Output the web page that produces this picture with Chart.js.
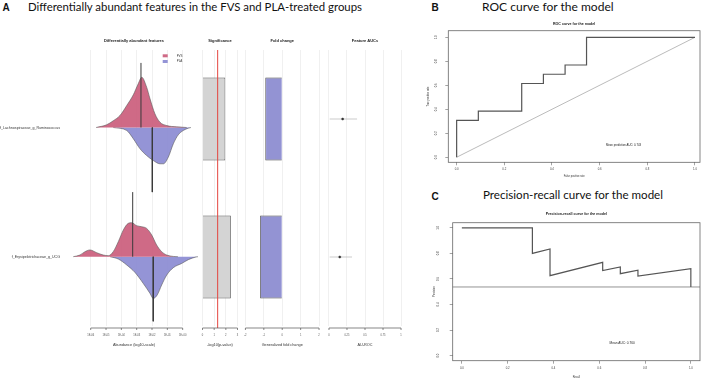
<!DOCTYPE html>
<html><head><meta charset="utf-8">
<script src="https://cdn.jsdelivr.net/npm/chart.js@4.4.1/dist/chart.umd.min.js"></script>
<style>
html,body{margin:0;padding:0;background:#fff;width:708px;height:380px;overflow:hidden;position:relative}
canvas{position:absolute}
.hdr{position:absolute;font-family:Lato,'Liberation Sans',sans-serif;color:#111;white-space:nowrap;line-height:1;transform-origin:0 0}
.lt{position:absolute;font-family:'Liberation Sans',Arial,sans-serif;font-weight:bold;font-size:10px;color:#111;line-height:1}
</style></head><body>
<div class="lt" style="left:2.5px;top:3px">A</div>
<div class="hdr" data-w="334" style="left:28px;top:1.6px;font-size:10.5px">Differentially abundant features in the FVS and PLA-treated groups</div>
<div class="lt" style="left:431.5px;top:2.5px">B</div>
<div class="hdr" data-w="131.6" style="left:481.7px;top:1px;font-size:11px">ROC curve for the model</div>
<div class="lt" style="left:431.5px;top:191.5px">C</div>
<div class="hdr" data-w="180" style="left:483.3px;top:189.3px;font-size:11px">Precision-recall curve for the model</div>

<canvas id="dens" width="205" height="360" style="left:0;top:0"></canvas>
<canvas id="sig" width="60" height="360" style="left:190px;top:0"></canvas>
<canvas id="fold" width="92" height="360" style="left:236px;top:0"></canvas>
<canvas id="auc" width="90" height="360" style="left:320px;top:0"></canvas>
<canvas id="roc" width="298" height="190" style="left:410px;top:0"></canvas>
<canvas id="pr" width="298" height="190" style="left:410px;top:190px"></canvas>

<script>
// ---------------- DATA ----------------
const FEATURES = ['f_Lachnospiraceae_g_Ruminococcus', 'f_Erysipelotrichaceae_g_UCG'];
const GROUPS = ['FVS', 'PLA'];
const ABUND_TICKS = [-6, -5, -4, -3, -2, -1, 0];
const ABUND_LABELS = ['1E-06', '1E-05', '1E-04', '1E-03', '1E-02', '1E-01', '1E+00'];

// density curves: x = log10 abundance, d = density height (row units)
const R1_FVS_X = [-5.65, -4.96, -4.53, -4.09, -3.65, -3.22, -2.90, -2.67, -2.35, -2.13, -1.81, -1.48, -1.04, -0.39, 0.26];
const R1_FVS_D = [0, 0.021, 0.052, 0.093, 0.170, 0.253, 0.338, 0.389, 0.312, 0.222, 0.106, 0.041, 0.015, 0.005, 0];
const R1_PLA_X = [-4.53, -3.65, -3.22, -2.78, -2.35, -1.92, -1.48, -1.26, -0.94, -0.61, -0.29, 0.04, 0.37, 0.54];
const R1_PLA_D = [0, 0.023, 0.087, 0.165, 0.217, 0.255, 0.281, 0.281, 0.230, 0.126, 0.057, 0.023, 0.005, 0];
const R2_FVS_X = [-7.14, -6.70, -6.37, -6.05, -5.61, -5.18, -4.85, -4.53, -4.20, -3.87, -3.55, -3.33, -3.00, -2.67, -2.35, -2.02, -1.70, -1.37, -1.04, -0.61, -0.31];
const R2_FVS_D = [0, 0.013, 0.039, 0.052, 0.031, 0.013, 0.008, 0.039, 0.116, 0.207, 0.258, 0.263, 0.240, 0.232, 0.219, 0.168, 0.091, 0.039, 0.013, 0.002, 0];
const R2_PLA_X = [-4.74, -4.20, -3.65, -3.11, -2.57, -2.13, -1.92, -1.66, -1.37, -1.04, -0.61, -0.06, 0.37, 0.87, 1.0];
const R2_PLA_D = [0, 0.018, 0.064, 0.122, 0.207, 0.284, 0.323, 0.296, 0.219, 0.142, 0.085, 0.052, 0.023, 0.002, 0];
const MEDIAN_FVS = [-2.72, -3.26];
const MEDIAN_PLA = [-1.98, -1.92];

const SIG = [1.95, 2.43];          // -log10(p-value)
const SIG_THRESHOLD = 1.3;
const SIG_TICKS = [0, 1, 2, 3];
const FOLD = [-0.92, -1.2];        // generalized fold change
const FOLD_TICKS = [-2, -1, 0, 1, 2];
const AUC = [0.19, 0.15];
const AUC_LO = [0.01, 0.01];
const AUC_HI = [0.39, 0.32];
const AUC_TICKS = [0, 0.25, 0.5, 0.75, 1];

const ROC_FPR = [0, 0, 0.091, 0.091, 0.273, 0.273, 0.364, 0.364, 0.455, 0.455, 0.545, 0.545, 1.0];
const ROC_TPR = [0, 0.308, 0.308, 0.385, 0.385, 0.615, 0.615, 0.692, 0.692, 0.769, 0.769, 1.0, 1.0];
const ROC_AUC_TEXT = 'Mean prediction AUC: 0.743';
const PR_RECALL = [0, 0.308, 0.308, 0.385, 0.385, 0.615, 0.615, 0.692, 0.692, 0.769, 0.769, 1.0, 1.0];
const PR_PRECISION = [1.0, 1.0, 0.80, 0.835, 0.626, 0.730, 0.665, 0.694, 0.641, 0.668, 0.623, 0.681, 0.537];
const PR_BASELINE = 0.537;
const PR_AUC_TEXT = 'Mean AUC: 0.760';
const UNIT_TICKS = [0, 0.2, 0.4, 0.6, 0.8, 1.0];

// ---------------- STYLE ----------------
const FONT = "'Liberation Sans', Arial, sans-serif";
Chart.defaults.font.family = FONT;
Chart.defaults.color = '#444';
const FVS_COLOR = 'rgba(204,98,128,0.95)';
const PLA_COLOR = 'rgba(142,142,212,0.95)';
const MED_LEN = 0.5;

// fit headers
document.querySelectorAll('.hdr').forEach(el => {
  const w = el.getBoundingClientRect().width;
  el.style.transform = 'scaleX(' + (+el.dataset.w / w) + ')';
});

const base = {animation: false, responsive: false, devicePixelRatio: 1, events: []};
function ttl(text, size, pt, pb) {
  return {display: true, text, fullSize: false, color: '#222',
    font: {size, weight: 'bold', family: FONT, lineHeight: 1.2}, padding: {top: pt, bottom: pb}};
}
function axA(min, max, ticks, labels, title) {
  return {
    type: 'linear', min, max,
    afterBuildTicks: s => { s.ticks = ticks.map(v => ({value: v})); },
    afterFit: s => { s.height = 34; },
    grid: {color: '#ececec', lineWidth: 0.8, drawTicks: false},
    border: {display: false},
    ticks: {font: {size: 2.6}, color: '#555', padding: 8, autoSkip: false, maxRotation: 0,
      callback: (v, i) => labels[i]},
    title: {display: true, text: title, font: {size: 3.8}, color: '#333', padding: {top: 0, bottom: 12.6}}
  };
}
const axisLine = {id: 'axisLine', afterDraw(chart) {
  const x = chart.scales.x, ctx = chart.ctx, y = chart.chartArea.bottom + 2;
  const t = x.ticks;
  ctx.save(); ctx.strokeStyle = '#555'; ctx.lineWidth = 0.7; ctx.beginPath();
  ctx.moveTo(x.getPixelForValue(t[0].value), y); ctx.lineTo(x.getPixelForValue(t[t.length - 1].value), y);
  t.forEach(tk => { const px = x.getPixelForValue(tk.value); ctx.moveTo(px, y); ctx.lineTo(px, y + 2); });
  ctx.stroke(); ctx.restore();
}};

// ---------------- PANEL A: densities ----------------
const pts = (xs, ds, row, sign) => xs.map((x, i) => ({x, y: row + sign * ds[i]}));
function dens(xs, ds, row, sign, color) {
  return {data: pts(xs, ds, row, sign), showLine: true, fill: {value: row}, backgroundColor: color,
    borderColor: '#5a5a5a', borderWidth: 0.6, pointRadius: 0, cubicInterpolationMode: 'monotone', order: 2};
}
function med(x, row, sign) {
  return {data: [{x, y: row}, {x, y: row + sign * MED_LEN}], showLine: true, borderColor: '#3a3a3a',
    borderWidth: 1, pointRadius: 0, order: 0};
}
const densLegend = {id: 'densLegend', afterDraw(chart) {
  const ctx = chart.ctx, a = chart.chartArea;
  [[FVS_COLOR, GROUPS[0]], [PLA_COLOR, GROUPS[1]]].forEach(([c, t], i) => {
    const y = 54.3 + i * 5.7;
    ctx.fillStyle = c; ctx.fillRect(a.right - 35.3, y, 5, 3);
    ctx.fillStyle = '#333'; ctx.font = '3px ' + FONT; ctx.textBaseline = 'middle'; ctx.textAlign = 'left';
    ctx.fillText(t, a.right - 21.3, y + 1.5);
  });
}};
new Chart(document.getElementById('dens'), {
  type: 'scatter',
  data: {datasets: [
    dens(R1_FVS_X, R1_FVS_D, 1, -1, FVS_COLOR), dens(R1_PLA_X, R1_PLA_D, 1, 1, PLA_COLOR),
    dens(R2_FVS_X, R2_FVS_D, 2, -1, FVS_COLOR), dens(R2_PLA_X, R2_PLA_D, 2, 1, PLA_COLOR),
    med(MEDIAN_FVS[0], 1, -1), med(MEDIAN_PLA[0], 1, 1), med(MEDIAN_FVS[1], 2, -1), med(MEDIAN_PLA[1], 2, 1)
  ]},
  options: {...base, layout: {padding: {right: 7}},
    plugins: {legend: {display: false}, tooltip: {enabled: false},
      title: ttl('Differentially abundant features', 4, 38, 7.2)},
    scales: {
      x: axA(-7.35, 1.0, ABUND_TICKS, ABUND_LABELS, 'Abundance (log10-scale)'),
      y: {type: 'linear', reverse: true, min: 0.4001, max: 2.5364,
        afterBuildTicks: s => { s.ticks = [{value: 1}, {value: 2}]; },
        afterFit: s => { s.width = 70; },
        grid: {display: false}, border: {display: false},
        ticks: {font: {size: 3.6}, color: '#333', padding: 2, callback: v => FEATURES[v - 1]}}
    }},
  plugins: [axisLine, densLegend]
});

// ---------------- PANEL A: significance ----------------
const sigLine = {id: 'sigLine', afterDatasetsDraw(chart) {
  const x = chart.scales.x, a = chart.chartArea, ctx = chart.ctx, px = x.getPixelForValue(SIG_THRESHOLD);
  ctx.save(); ctx.strokeStyle = '#e4453f'; ctx.lineWidth = 1; ctx.beginPath();
  ctx.moveTo(px, a.top); ctx.lineTo(px, a.bottom + 2); ctx.stroke(); ctx.restore();
}};
function barOpts(title, xScale, padL, padR) {
  return {...base, indexAxis: 'y', layout: {padding: {left: padL, right: padR}},
    plugins: {legend: {display: false}, tooltip: {enabled: false}, title: ttl(title, 4, 38, 7.2)},
    scales: {x: xScale, y: {type: 'category', offset: true, display: false}}};
}
new Chart(document.getElementById('sig'), {
  type: 'bar',
  data: {labels: FEATURES, datasets: [{data: SIG, backgroundColor: '#d4d4d4', borderColor: '#555',
    borderWidth: 0.8, barPercentage: 0.6, categoryPercentage: 1}]},
  options: barOpts('Significance', axA(-0.3, 3.3, SIG_TICKS, SIG_TICKS.map(String), '-log10(p-value)'), 9, 9),
  plugins: [axisLine, sigLine]
});

// ---------------- PANEL A: fold change ----------------
new Chart(document.getElementById('fold'), {
  type: 'bar',
  data: {labels: FEATURES, datasets: [{data: FOLD, backgroundColor: '#9393d3', borderColor: '#444',
    borderWidth: 0.8, barPercentage: 0.6, categoryPercentage: 1}]},
  options: barOpts('Fold change', axA(-2.3, 2.3, FOLD_TICKS, FOLD_TICKS.map(String), 'Generalized fold change'), 2.3, 2.3),
  plugins: [axisLine]
});

// ---------------- PANEL A: AUCs ----------------
const aucSets = FEATURES.map((f, i) => ({data: [{x: AUC_LO[i], y: f}, {x: AUC_HI[i], y: f}], showLine: true,
  borderColor: '#a8a8a8', borderWidth: 0.6, pointRadius: 0, order: 1}));
aucSets.push({data: FEATURES.map((f, i) => ({x: AUC[i], y: f})), pointRadius: 1.1,
  backgroundColor: '#2a2a2a', borderColor: '#2a2a2a', borderWidth: 0.4, order: 0});
new Chart(document.getElementById('auc'), {
  type: 'scatter',
  data: {datasets: aucSets},
  options: {...base, layout: {padding: {left: 3.75, right: 3.75}},
    plugins: {legend: {display: false}, tooltip: {enabled: false}, title: ttl('Feature AUCs', 4, 38, 7.2)},
    scales: {x: axA(-0.05, 1.05, AUC_TICKS, AUC_TICKS.map(String), 'AU-ROC'),
      y: {type: 'category', labels: FEATURES, offset: true, display: false}}},
  plugins: [axisLine]
});

// ---------------- PANELS B & C ----------------
const frame = {id: 'frame', afterDraw(chart) {
  const a = chart.chartArea, ctx = chart.ctx;
  ctx.save(); ctx.strokeStyle = '#666'; ctx.lineWidth = 0.8;
  ctx.strokeRect(a.left, a.top, a.right - a.left, a.bottom - a.top); ctx.restore();
}};
const note = {id: 'note', afterDraw(chart, args, o) {
  const ctx = chart.ctx;
  ctx.save(); ctx.fillStyle = '#222'; ctx.font = o.size + 'px ' + FONT; ctx.textAlign = 'center'; ctx.textBaseline = 'middle';
  ctx.fillText(o.text, chart.scales.x.getPixelForValue(o.x), chart.scales.y.getPixelForValue(o.y)); ctx.restore();
}};
const hline = {id: 'hline', beforeDatasetsDraw(chart, args, o) {
  if (o.value === undefined) return;
  const a = chart.chartArea, ctx = chart.ctx, py = chart.scales.y.getPixelForValue(o.value);
  ctx.save(); ctx.strokeStyle = '#777'; ctx.lineWidth = 0.8; ctx.beginPath();
  ctx.moveTo(a.left, py); ctx.lineTo(a.right, py); ctx.stroke(); ctx.restore();
}};
function rScales(xr, yr, xTitle, yTitle, xh, xtPad, xTitlePb, yw, ytPad, yTitlePt) {
  return {
    x: {type: 'linear', min: xr[0], max: xr[1],
      afterBuildTicks: s => { s.ticks = UNIT_TICKS.map(v => ({value: v})); },
      afterFit: s => { s.height = xh; },
      grid: {drawOnChartArea: false, drawTicks: true, tickLength: 3, color: '#666', lineWidth: 0.6},
      border: {display: false},
      ticks: {font: {size: 2.8}, color: '#444', padding: xtPad, maxRotation: 0, autoSkip: false, callback: v => v.toFixed(1)},
      title: {display: true, text: xTitle, font: {size: 2.6}, color: '#333', padding: {top: 0, bottom: xTitlePb}}},
    y: {type: 'linear', min: yr[0], max: yr[1],
      afterBuildTicks: s => { s.ticks = UNIT_TICKS.map(v => ({value: v})); },
      afterFit: s => { s.width = yw; },
      grid: {drawOnChartArea: false, drawTicks: true, tickLength: 3, color: '#666', lineWidth: 0.6},
      border: {display: false},
      ticks: {font: {size: 2.8}, color: '#444', padding: ytPad, minRotation: 90, maxRotation: 90, crossAlign: 'center',
        autoSkip: false, callback: v => v.toFixed(1)},
      title: {display: true, text: yTitle, font: {size: 2.6}, color: '#333', padding: {top: yTitlePt, bottom: 0}}}
  };
}
new Chart(document.getElementById('roc'), {
  type: 'scatter',
  data: {datasets: [
    {data: ROC_FPR.map((x, i) => ({x, y: ROC_TPR[i]})), showLine: true, borderColor: '#555', borderWidth: 1.2, pointRadius: 0, order: 0},
    {data: [{x: 0, y: 0}, {x: 1, y: 1}], showLine: true, borderColor: '#aaa', borderWidth: 0.8, pointRadius: 0, order: 1}
  ]},
  options: {...base, layout: {padding: {right: 8}},
    plugins: {legend: {display: false}, tooltip: {enabled: false},
      title: ttl('ROC curve for the model', 3.6, 21.8, 4.6),
      note: {x: 0.7, y: 0.1, text: ROC_AUC_TEXT, size: 2.8}},
    scales: rScales([-0.035, 1.021], [-0.042, 1.055], 'False positive rate', 'True positive rate', 27.7, 2.6, 11.7, 38.3, 7.3, 16.4)},
  plugins: [frame, note]
});
new Chart(document.getElementById('pr'), {
  type: 'scatter',
  data: {datasets: [
    {data: PR_RECALL.map((x, i) => ({x, y: PR_PRECISION[i]})), showLine: true, borderColor: '#555', borderWidth: 1.2, pointRadius: 0}
  ]},
  options: {...base, layout: {padding: {right: 8}},
    plugins: {legend: {display: false}, tooltip: {enabled: false},
      title: ttl('Precision-recall curve for the model', 3.6, 22.1, 6.3),
      note: {x: 0.7, y: 0.1, text: PR_AUC_TEXT, size: 3.2}, hline: {value: PR_BASELINE}},
    scales: rScales([-0.04, 1.04], [-0.04, 1.04], 'Recall', 'Precision', 19.3, 3.2, 0.9, 42.7, 9.3, 22.6)},
  plugins: [frame, note, hline]
});
</script>
</body></html>
